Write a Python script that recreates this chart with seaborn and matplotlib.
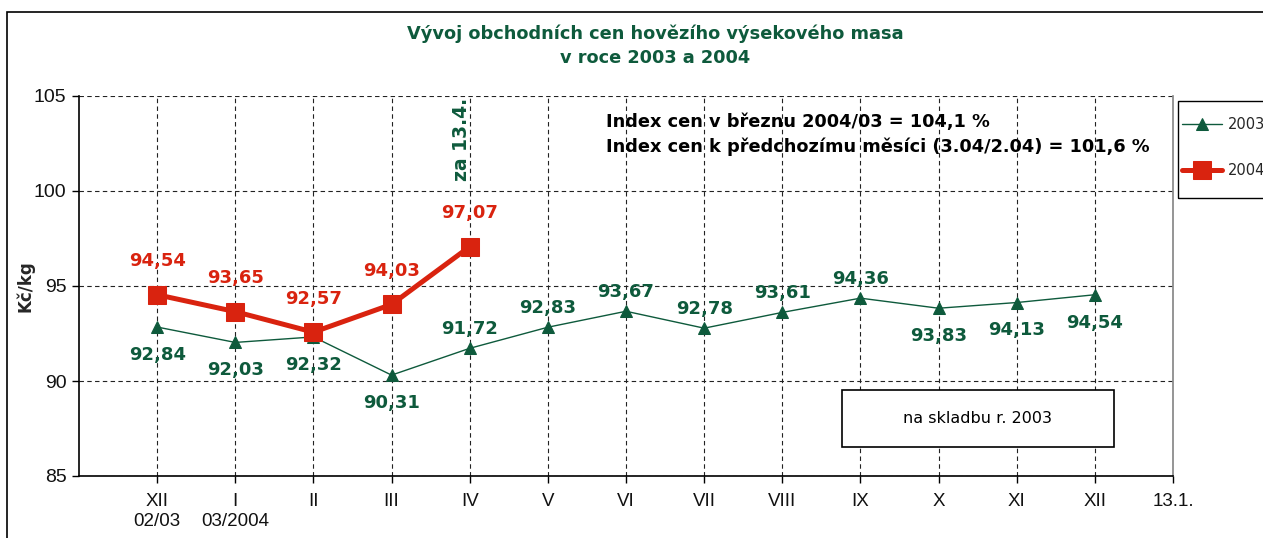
import matplotlib
matplotlib.use("Agg")
import matplotlib.pyplot as plt
import matplotlib.patches as patches
import seaborn as sns
import pandas as pd

# Data
mesice = ["XII\n02/03", "I\n03/2004", "II", "III", "IV", "V", "VI", "VII",
          "VIII", "IX", "X", "XI", "XII", "13.1."]
ceny_2003 = [92.84, 92.03, 92.32, 90.31, 91.72, 92.83, 93.67, 92.78,
             93.61, 94.36, 93.83, 94.13, 94.54]
ceny_2004 = [94.54, 93.65, 92.57, 94.03, 97.07]
# umisteni popisku u zelene rady: 1 = nad bodem, -1 = pod bodem
popis_2003 = [-1, -1, -1, -1, 1, 1, 1, 1, 1, 1, -1, -1, -1]

ZELENA = "#0e5a3c"
CERVENA = "#d9230f"

df03 = pd.DataFrame({"pos": range(len(ceny_2003)), "cena": ceny_2003})
df04 = pd.DataFrame({"pos": range(len(ceny_2004)), "cena": ceny_2004})

sns.set_theme(style="white")
plt.rcParams["font.family"] = ["DejaVu Sans"]

fig = plt.figure(figsize=(12.63, 5.38), dpi=100)
ax = fig.add_axes([79 / 1263, 1 - 476 / 538, 1094 / 1263, 380 / 538])

sns.lineplot(data=df03, x="pos", y="cena", ax=ax, color=ZELENA, linewidth=1.0,
             marker="^", markersize=8, markeredgecolor=ZELENA, label="2003")
sns.lineplot(data=df04, x="pos", y="cena", ax=ax, color=CERVENA, linewidth=3.6,
             marker="s", markersize=13, markeredgecolor=CERVENA, label="2004")

# popisky hodnot
for i, v in enumerate(ceny_2003):
    dy = 14 if popis_2003[i] > 0 else -20
    ax.annotate(f"{v:.2f}".replace(".", ","), (i, v), xytext=(0, dy),
                textcoords="offset points", ha="center", va="center",
                color=ZELENA, fontsize=13, fontweight="bold")
for i, v in enumerate(ceny_2004):
    ax.annotate(f"{v:.2f}".replace(".", ","), (i, v), xytext=(0, 24),
                textcoords="offset points", ha="center", va="center",
                color=CERVENA, fontsize=13, fontweight="bold")

ax.set_xlim(-1, 13)
ax.set_ylim(85, 105)
ax.set_xticks(range(len(mesice)))
ax.set_xticklabels(mesice, fontsize=13.5, family="Liberation Sans", color="#111111",
                   linespacing=1.25)
ax.set_yticks([85, 90, 95, 100, 105])
ax.set_yticklabels(["85", "90", "95", "100", "105"], fontsize=14, family="Liberation Sans",
                   color="#111111")
ax.tick_params(axis="both", direction="out", length=5, width=1, color="black",
               bottom=True, left=True, pad=4)
ax.tick_params(axis="x", pad=7)
ax.set_xlabel("")
ax.set_ylabel("Kč/kg", fontsize=12, fontweight="bold")
ax.yaxis.set_label_coords(-44 / 1094, 0.5)

ax.grid(True, linestyle=(0, (4, 3)), color="#222222", linewidth=0.8)
ax.xaxis.get_gridlines()[-1].set_visible(False)
ax.set_axisbelow(True)
ax.spines["left"].set_color("black")
ax.spines["bottom"].set_color("black")
ax.spines["left"].set_linewidth(1.2)
ax.spines["bottom"].set_linewidth(1.2)
ax.spines["right"].set_color("#888888")
ax.spines["top"].set_visible(False)

# texty v grafu
ax.text(5.74, 102.95, "Index cen v březnu 2004/03 = 104,1 %\n"
        "Index cen k předchozímu měsíci (3.04/2.04) = 101,6 %",
        ha="left", va="center", fontsize=12.8, fontweight="bold",
        color="black", linespacing=1.45)
ax.text(3.90, 102.7, "za 13.4.", rotation=90, ha="center", va="center",
        fontsize=13.5, fontweight="bold", color=ZELENA)

box = patches.Rectangle((0.697, 0.0763), 0.249, 0.15, transform=ax.transAxes,
                        facecolor="white", edgecolor="black", linewidth=1.2, zorder=5)
ax.add_patch(box)
ax.text(0.8217, 0.151, "na skladbu r. 2003", transform=ax.transAxes, ha="center",
        va="center", fontsize=11.5, color="black", zorder=6)

# titulek
fig.text(655 / 1263, 1 - 46 / 538, "Vývoj obchodních cen hovězího výsekového masa\n"
         "v roce 2003 a 2004", ha="center", va="center", fontsize=12.8,
         fontweight="bold", color=ZELENA, linespacing=1.45)

# legenda (ramecek zvlast, aby sedely odstupy)
ax.get_legend().remove()
h, l = ax.get_legend_handles_labels()
fig.legend(h, l, loc="upper left", bbox_to_anchor=(1178 / 1263, 1 - 113 / 538),
           frameon=False, fontsize=10.5, labelspacing=2.1, handlelength=2.75,
           borderpad=0.3, borderaxespad=0, handletextpad=0.4)
fig.add_artist(patches.Rectangle((1178 / 1263, 1 - 198 / 538), 0.2, 97 / 538,
                                 transform=fig.transFigure, fill=False,
                                 edgecolor="black", linewidth=1.0))

# vnejsi ramecek
fig.add_artist(patches.Rectangle((7 / 1263, -0.1), 1.2, 1 - 12 / 538 + 0.1,
                                 transform=fig.transFigure, fill=False,
                                 edgecolor="black", linewidth=1.2))

fig.savefig("out.png", dpi=100)
